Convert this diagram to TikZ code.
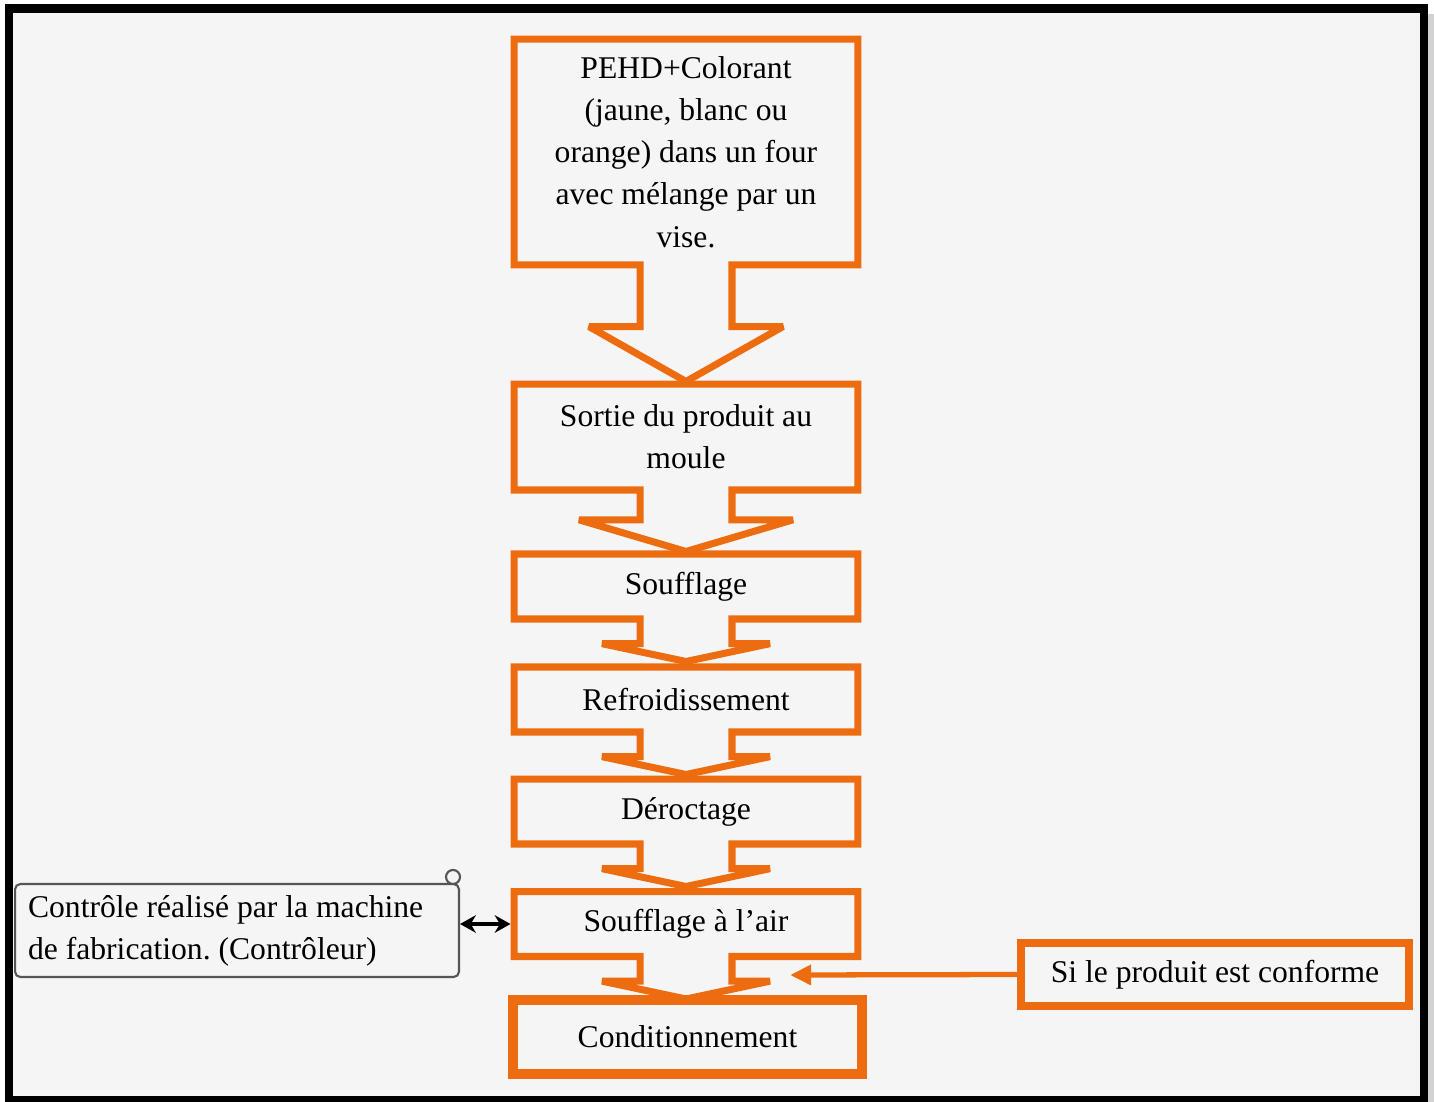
\documentclass[tikz,border=0pt]{standalone}
\usepackage{fontspec}
\setmainfont{Liberation Serif}
\usepackage{tikz}
\usetikzlibrary{shapes.arrows,arrows.meta,positioning}
\definecolor{poorange}{RGB}{238,108,16}
\definecolor{pobg}{RGB}{245,245,245}
\definecolor{poframe}{RGB}{85,85,85}
\tikzstyle{etape} = [arrow box, draw=poorange, line width=4pt, miter limit=2, minimum width=6.88cm, align=center, inner sep=2pt, font=\fontsize{18}{24}\selectfont, arrow box shaft width=1.84cm]
\tikzstyle{etapecourte} = [etape, minimum height=1.3cm, arrow box arrows={south:0.78cm}, arrow box head extend=0.76cm, arrow box tip angle=156]
\tikzstyle{boite} = [rectangle, draw=poorange, align=center, font=\fontsize{18}{24}\selectfont]
\tikzstyle{controleur} = [rectangle, draw=poframe, fill=pobg, line width=1.2pt, rounded corners=3pt, minimum height=1.86cm, text width=8.36cm, inner xsep=0.26cm, align=flush left, font=\fontsize{18}{24}\selectfont\frenchspacing]

\begin{document}
\begin{tikzpicture}[x=0.02cm, y=-0.02cm]
\useasboundingbox (0,0) rectangle (1434,1102);
\fill[pobg] (9,8.5) rectangle (1424,1100);
\fill[gray!35] (1428,14) rectangle (1434,1102);

% chaine de fabrication
\node (pehd) [etape, minimum height=4.52cm, arrow box arrows={south:2.26cm}, arrow box head extend=1.02cm, arrow box tip angle=121] at (686,152) {PEHD+Colorant\\(jaune, blanc ou\\orange) dans un four\\avec mélange par un\\vise.};
\node (sortie) [etape, minimum height=2.12cm, arrow box arrows={south:1.16cm}, arrow box head extend=1.22cm, arrow box tip angle=147] at (686,437) {Sortie du produit au\\moule};
\node (soufflage) [etapecourte] at (686,586.5) {Soufflage};
\node (refroid) [etapecourte] at (686,699.5) {Refroidissement};
\node (deroctage) [etapecourte] at (686,811.5) {Déroctage};
\node (soufflair) [etapecourte] at (686,924) {Soufflage à l’air};
\node (condition) [boite, line width=5.7pt, minimum width=6.98cm, minimum height=1.48cm] at (687.5,1037) {Conditionnement};

% controle et conformite
\node (controle) [controleur, anchor=west] at (14,930.5) {Contrôle réalisé par la machine\\de fabrication. (Contrôleur)};
\draw[poframe, line width=1.2pt, fill=pobg] ([xshift=-0.14cm,yshift=0.12cm]controle.north east) circle (0.14cm);
\node (conforme) [boite, line width=4.5pt, minimum width=7.76cm, minimum height=1.26cm] at (1215,974.5) {Si le produit est conforme};
\coordinate (entree) at (790,975);

\draw[line width=2.2pt, {Stealth[length=9pt,width=10pt]}-{Stealth[length=9pt,width=10pt]}] (controle.east |- soufflair.west) -- (soufflair.west);
\draw[poorange, line width=3pt, -{Triangle[length=12pt,width=11pt]}] (conforme.west) -- (entree);

\draw[line width=5pt] (9,8.5) rectangle (1424,1100);
\end{tikzpicture}
\end{document}
